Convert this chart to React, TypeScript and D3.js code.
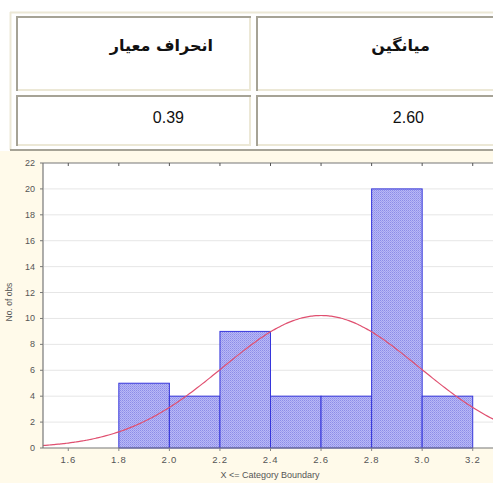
import React from "react";
import * as d3 from "d3";

// ---- data ----
const tableHeaders = ["انحراف معیار", "میانگین"]; // left cell, right cell
const tableValues = ["0.39", "2.60"];
const binEdges = [1.8, 2.0, 2.2, 2.4, 2.6, 2.8, 3.0, 3.2];
const binCounts = [5, 4, 9, 4, 4, 20, 4];
const xTicks = [1.6, 1.8, 2.0, 2.2, 2.4, 2.6, 2.8, 3.0, 3.2];
const yTicks = [0, 2, 4, 6, 8, 10, 12, 14, 16, 18, 20, 22];
const meanValue = 2.6;
const sdValue = 0.39;

export default function App() {
  const W = 493, H = 483;
  const x = d3.scaleLinear().domain([1.5, 3.3]).range([43, 498]);
  const y = d3.scaleLinear().domain([0, 22]).range([448, 163]);
  const n = d3.sum(binCounts);
  const bw = binEdges[1] - binEdges[0];
  const curvePts = d3.range(1.5, 3.3001, 0.01).map((v) => {
    const z = (v - meanValue) / sdValue;
    return [v, (n * bw) / (sdValue * Math.sqrt(2 * Math.PI)) * Math.exp(-0.5 * z * z)] as [number, number];
  });
  const line = d3.line<[number, number]>().x((d) => x(d[0])).y((d) => y(d[1])).curve(d3.curveMonotoneX);

  const gray = "#a6a396";
  const light = "#ece8d6";
  const cells = [
    { x0: 16, x1: 251 },
    { x0: 256, x1: 500 },
  ];
  const rows = [
    { y0: 16, y1: 91 },
    { y0: 95, y1: 146 },
  ];
  const headerRight = [213, 430];
  const valueRight = [184, 424];

  return (
    <svg width={W} height={H} style={{ position: "absolute", left: 0, top: 0 }} xmlns="http://www.w3.org/2000/svg">
      <defs>
        <pattern id="dots" width="2" height="2" patternUnits="userSpaceOnUse">
          <rect width="2" height="2" fill="#b8b8f6" />
          <rect width="1" height="1" fill="#8c8ce8" />
          <rect x="1" y="1" width="1" height="1" fill="#9e9eee" />
        </pattern>
        <clipPath id="plotClip">
          <rect x={43} y={163} width={455} height={285} />
        </clipPath>
      </defs>
      <rect width={W} height={H} fill="#ffffff" />
      {/* table */}
      <line x1={10} y1={12.5} x2={W} y2={12.5} stroke={light} strokeWidth={2} />
      <line x1={10.5} y1={12} x2={10.5} y2={150} stroke={light} strokeWidth={2} />
      {rows.map((r, ri) =>
        cells.map((c, ci) => (
          <g key={`${ri}-${ci}`}>
            <line x1={c.x0} y1={r.y1 - 1} x2={c.x1} y2={r.y1 - 1} stroke={light} strokeWidth={2} />
            <line x1={c.x1 - 1} y1={r.y0} x2={c.x1 - 1} y2={r.y1} stroke={light} strokeWidth={2} />
            <line x1={c.x0} y1={r.y0 + 1} x2={c.x1} y2={r.y0 + 1} stroke={gray} strokeWidth={2} />
            <line x1={c.x0 + 1} y1={r.y0} x2={c.x0 + 1} y2={r.y1} stroke={gray} strokeWidth={2} />
          </g>
        ))
      )}
      {tableHeaders.map((t, i) => (
        <text key={"h" + i} x={headerRight[i]} y={51} textAnchor="end"
          fontFamily="'DejaVu Sans', 'Noto Sans', sans-serif" fontWeight="bold" fontSize={16} fill="#111">
          {t}
        </text>
      ))}
      {tableValues.map((t, i) => (
        <text key={"v" + i} x={valueRight[i]} y={123} textAnchor="end"
          fontFamily="'Liberation Sans', Arial, sans-serif" fontSize={16} fill="#111">
          {t}
        </text>
      ))}
      {/* chart image background */}
      <rect x={0} y={151} width={W} height={H - 151} fill="#fffaea" />
      <line x1={10} y1={150} x2={W} y2={150} stroke={gray} strokeWidth={2} />
      <rect x={43} y={163} width={455} height={285} fill="#ffffff" />
      {/* grid */}
      {yTicks.filter((t) => t > 0 && t < 22).map((t) => (
        <line key={"g" + t} x1={44} x2={498} y1={y(t)} y2={y(t)} stroke="#e6e6e6" strokeWidth={1} />
      ))}
      {/* bars */}
      {binCounts.map((c, i) => (
        <rect key={"b" + i} x={x(binEdges[i])} y={y(c)} width={x(binEdges[i + 1]) - x(binEdges[i])}
          height={y(0) - y(c)} fill="url(#dots)" stroke="#3636dc" strokeWidth={1} />
      ))}
      {/* normal curve */}
      <path d={line(curvePts) || ""} fill="none" stroke="#e05070" strokeWidth={1.2} clipPath="url(#plotClip)" />
      {/* axes frame */}
      <line x1={43} x2={498} y1={163} y2={163} stroke="#777" strokeWidth={1.2} />
      <line x1={43} x2={498} y1={448} y2={448} stroke="#777" strokeWidth={1.2} />
      <line x1={43} x2={43} y1={163} y2={448} stroke="#777" strokeWidth={1.2} />
      {xTicks.map((t) => (
        <g key={"xt" + t}>
          <line x1={x(t)} x2={x(t)} y1={163} y2={166} stroke="#555" />
          <line x1={x(t)} x2={x(t)} y1={448} y2={451} stroke="#888" />
          <text x={x(t)} y={463} textAnchor="middle" fontFamily="'Liberation Sans', Arial, sans-serif"
            fontSize={9.5} fill="#555" letterSpacing={0.8}>
            {t.toFixed(1)}
          </text>
        </g>
      ))}
      {yTicks.map((t) => (
        <g key={"yt" + t}>
          <line x1={40} x2={43} y1={y(t)} y2={y(t)} stroke="#777" />
          <text x={35} y={y(t) + 3} textAnchor="end" fontFamily="'Liberation Sans', Arial, sans-serif"
            fontSize={9} fill="#555">
            {t}
          </text>
        </g>
      ))}
      <text x={270} y={478} textAnchor="middle" fontFamily="'Liberation Sans', Arial, sans-serif" fontSize={9} fill="#555">
        X &lt;= Category Boundary
      </text>
      <text transform="translate(12,302) rotate(-90)" textAnchor="middle" fontFamily="'Liberation Sans', Arial, sans-serif"
        fontSize={8.5} fill="#555">
        No. of obs
      </text>
    </svg>
  );
}
